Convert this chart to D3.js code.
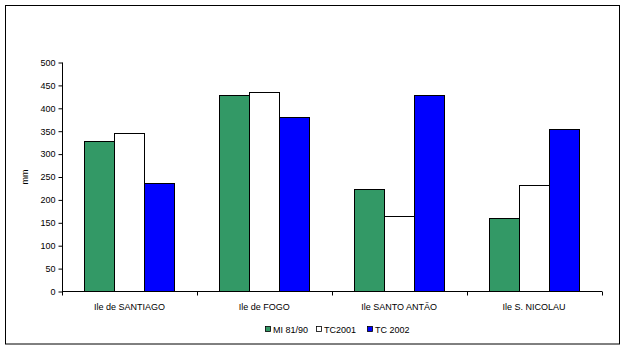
<!DOCTYPE html>
<html><head><meta charset="utf-8">
<script src="https://cdn.jsdelivr.net/npm/d3@7"></script>
<style>body{margin:0;background:#fff}svg{display:block}text{font-family:"Liberation Sans",Arial,sans-serif}</style>
</head><body><svg id="c" width="625" height="351"></svg>
<script>
const categories = ["Ile de SANTIAGO", "Ile de FOGO", "Ile SANTO ANTÃO", "Ile S. NICOLAU"];
const seriesNames = ["MI 81/90", "TC2001", "TC 2002"];
const seriesColors = ["#339966", "#ffffff", "#0000ff"];
const mi8190 = [327, 427, 222, 159];
const tc2001 = [346, 434, 163, 231];
const tc2002 = [235, 381, 427, 353];
const yTicks = [0, 50, 100, 150, 200, 250, 300, 350, 400, 450, 500];
const series = [mi8190, tc2001, tc2002];

const svg = d3.select("#c");
svg.append("rect").attr("x",5.5).attr("y",5.5).attr("width",614).attr("height",338.5)
  .attr("fill","#fff").attr("stroke","#000").attr("stroke-width",1);

const x0 = d3.scaleBand().domain(categories).range([62, 601.5]).paddingInner(0).paddingOuter(0);
const x1 = d3.scaleBand().domain(d3.range(series.length)).range([0, x0.bandwidth()]).paddingOuter(0.748).paddingInner(0);
const y = d3.scaleLinear().domain([0, 500]).range([291, 62]);

const g = svg.append("g");
categories.forEach((c, ci) => {
  series.forEach((s, si) => {
    g.append("rect")
      .attr("x", Math.round(x0(c) + x1(si)) + 0.5)
      .attr("y", Math.round(y(s[ci])) + 0.5)
      .attr("width", Math.round(x1.bandwidth()))
      .attr("height", Math.round(y(0)) - Math.round(y(s[ci])))
      .attr("fill", seriesColors[si]).attr("stroke", "#000").attr("stroke-width", 1);
  });
});

// y axis
const ya = svg.append("g").attr("transform","translate(62.5,0.5)")
  .call(d3.axisLeft(y).tickValues(yTicks).tickSize(4).tickPadding(3));
ya.selectAll("text").style("font-size","9px").attr("fill","#000");
ya.selectAll("line,path").attr("stroke","#000");
ya.select(".domain").attr("d","M-0,62V291");

// x axis
const xa = svg.append("g").attr("transform","translate(0,291.5)");
xa.append("line").attr("x1",62).attr("x2",602).attr("y1",0).attr("y2",0).attr("stroke","#000");
const bounds = categories.map(c => x0(c)).concat([x0.range()[1]]);
bounds.forEach(b => xa.append("line").attr("x1",Math.round(b)+0.5).attr("x2",Math.round(b)+0.5).attr("y1",0).attr("y2",4).attr("stroke","#000"));
categories.forEach(c => xa.append("text").attr("x", x0(c) + x0.bandwidth()/2).attr("y", 18)
  .attr("text-anchor","middle").style("font-size","9px").text(c));

// y label
svg.append("text").attr("transform","translate(28,177) rotate(-90)").attr("text-anchor","middle")
  .style("font-size","9px").text("mm");

// legend
const legX = [265, 316, 367];
seriesNames.forEach((n, i) => {
  svg.append("rect").attr("x", legX[i]+0.5).attr("y", 326.5).attr("width",5).attr("height",5)
    .attr("fill", seriesColors[i]).attr("stroke","#000").attr("stroke-width",0.8);
  svg.append("text").attr("x", legX[i]+8).attr("y", 333).style("font-size","9px").text(n);
});
</script></body></html>
